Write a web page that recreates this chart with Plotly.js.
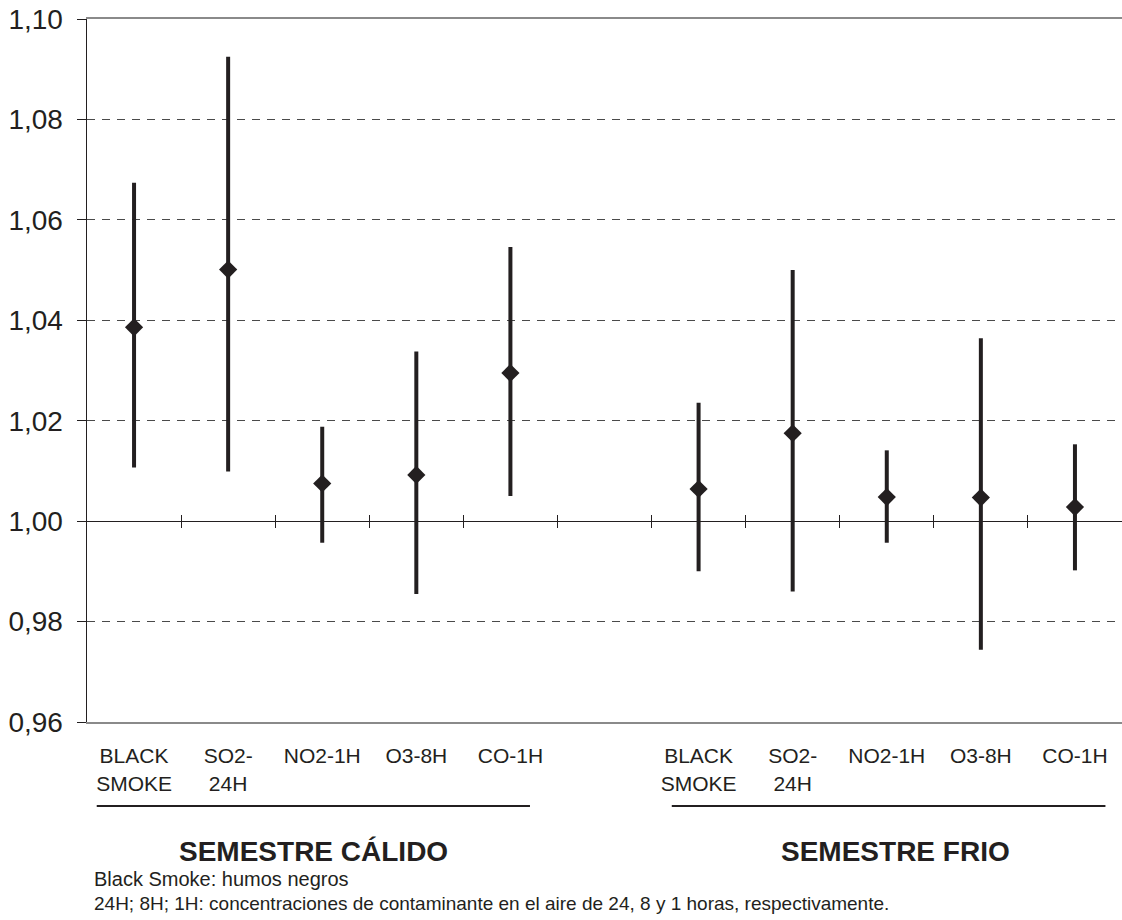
<!DOCTYPE html>
<html>
<head>
<meta charset="utf-8">
<script src="https://cdn.plot.ly/plotly-3.0.1.min.js"></script>
<style>html,body{margin:0;padding:0;background:#fff;}#chart{width:1122px;height:920px;}</style>
</head>
<body>
<div id="chart"></div>
<script>
// ---- data ----
const groupNames = ['SEMESTRE CÁLIDO', 'SEMESTRE FRIO'];
const pollutants = ['BLACK<br>SMOKE', 'SO2-<br>24H', 'NO2-1H', 'O3-8H', 'CO-1H'];
const calidoRR   = [1.0386, 1.0501, 1.0075, 1.0092, 1.0295];
const calidoLow  = [1.0107, 1.0099, 0.9957, 0.9855, 1.0050];
const calidoHigh = [1.0674, 1.0925, 1.0188, 1.0338, 1.0546];
const frioRR     = [1.0064, 1.0175, 1.0048, 1.0047, 1.0028];
const frioLow    = [0.9900, 0.9860, 0.9957, 0.9744, 0.9902];
const frioHigh   = [1.0236, 1.0500, 1.0141, 1.0364, 1.0153];
const yTicks     = [0.96, 0.98, 1.00, 1.02, 1.04, 1.06, 1.08, 1.10];
const footnotes  = ['Black Smoke: humos negros',
  '24H; 8H; 1H: concentraciones de contaminante en el aire de 24, 8 y 1 horas, respectivamente.'];

// ---- layout helpers ----
const n = pollutants.length;
const xCal = pollutants.map((_, i) => i);
const xFrio = pollutants.map((_, i) => i + n + 1);
const nSlots = 2 * n + 1;
const boundaries = [];
for (let i = 0; i < nSlots - 1; i++) boundaries.push(i + 0.5);
const xRange = [-0.5, nSlots - 0.5];
const ink = '#231f20';
const font = 'Liberation Sans, Arial, sans-serif';

function trace(xs, rr, lo, hi) {
  return {
    type: 'scatter', mode: 'markers', x: xs, y: rr, xaxis: 'x', yaxis: 'y',
    marker: {symbol: 'diamond', size: 14, color: ink},
    error_y: {type: 'data', symmetric: false,
      array: rr.map((v, i) => hi[i] - v),
      arrayminus: rr.map((v, i) => v - lo[i]),
      thickness: 4, width: 0, color: ink},
    showlegend: false, hoverinfo: 'skip', cliponaxis: false
  };
}

const data = [
  {type: 'scatter', x: [], y: [], xaxis: 'x2', yaxis: 'y', showlegend: false},
  {type: 'scatter', x: [], y: [], xaxis: 'x3', yaxis: 'y', showlegend: false},
  trace(xCal, calidoRR, calidoLow, calidoHigh),
  trace(xFrio, frioRR, frioLow, frioHigh)
];

const y0 = yTicks[0], y1 = yTicks[yTicks.length - 1];
const crossPos = (1.0 - y0) / (y1 - y0);

const layout = {
  width: 1122, height: 920,
  margin: {l: 87, r: 0, t: 19, b: 198},
  paper_bgcolor: '#fff', plot_bgcolor: '#fff',
  separators: ',.',
  font: {family: font, color: ink},
  xaxis: {
    type: 'linear', range: xRange, fixedrange: true,
    tickvals: xCal.concat(xFrio), ticktext: pollutants.concat(pollutants),
    tickfont: {size: 21, color: ink, family: font},
    ticks: '', showgrid: false, zeroline: false,
    showline: true, linecolor: '#8a8a8a', linewidth: 2, mirror: true,
    ticklabelstandoff: 14
  },
  xaxis2: {
    type: 'linear', range: xRange, overlaying: 'x', anchor: 'free', position: crossPos,
    tickvals: boundaries, ticks: 'outside', ticklen: 6, tickwidth: 1, tickcolor: ink,
    showticklabels: false, showgrid: false, zeroline: false,
    showline: true, linecolor: ink, linewidth: 1.2
  },
  xaxis3: {
    type: 'linear', range: xRange, overlaying: 'x', anchor: 'free', position: crossPos,
    tickvals: boundaries, ticks: 'inside', ticklen: 6, tickwidth: 1, tickcolor: ink,
    showticklabels: false, showgrid: false, zeroline: false, showline: false
  },
  yaxis: {
    range: [y0, y1], tickvals: yTicks, tickformat: '.2f',
    tickfont: {size: 28, color: ink, family: font},
    ticks: 'outside', ticklen: 9, tickwidth: 1, tickcolor: ink,
    ticklabelstandoff: 8,
    showgrid: true, gridcolor: '#4a4a4a', gridwidth: 1.2, griddash: '8px,7px',
    zeroline: false, showline: true, linecolor: ink, linewidth: 1.5
  },
  shapes: [
    {type: 'line', xref: 'paper', yref: 'paper', x0: 0.0094, x1: 0.428, y0: -0.1195, y1: -0.1195,
     line: {color: ink, width: 2}},
    {type: 'line', xref: 'paper', yref: 'paper', x0: 0.565, x1: 0.984, y0: -0.1195, y1: -0.1195,
     line: {color: ink, width: 2}}
  ],
  annotations: [
    {xref: 'paper', yref: 'paper', x: 0.2193, y: -0.1835, xanchor: 'center', yanchor: 'middle',
     text: '<b>' + groupNames[0] + '</b>', showarrow: false, font: {size: 28, color: ink, family: font}},
    {xref: 'paper', yref: 'paper', x: 0.7816, y: -0.1835, xanchor: 'center', yanchor: 'middle',
     text: '<b>' + groupNames[1] + '</b>', showarrow: false, font: {size: 28, color: ink, family: font}},
    {xref: 'paper', yref: 'paper', x: 0.0045, y: -0.2235, xanchor: 'left', yanchor: 'middle',
     text: footnotes[0], showarrow: false, font: {size: 20, color: ink, family: font}},
    {xref: 'paper', yref: 'paper', x: 0.0045, y: -0.2580, xanchor: 'left', yanchor: 'middle',
     text: footnotes[1], showarrow: false, font: {size: 19, color: ink, family: font}}
  ]
};

Plotly.newPlot('chart', data, layout, {staticPlot: true, displayModeBar: false});
</script>
</body>
</html>
